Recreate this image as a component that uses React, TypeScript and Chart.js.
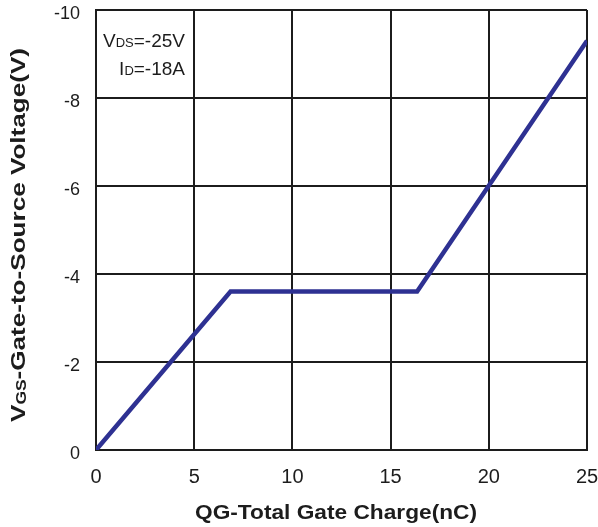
import { useEffect, useRef } from 'react';
import { Chart, registerables } from 'chart.js';

Chart.register(...registerables);

const chargeNC = [0, 6.85, 16.35, 25];
const gateVoltage = [0, -3.6, -3.6, -9.3];
const xTickValues = [0, 5, 10, 15, 20, 25];
const yTickValues = [0, -2, -4, -6, -8, -10];
const xTitle = 'QG-Total Gate Charge(nC)';
const yTitleParts = ['V', 'GS', '-Gate-to-Source Voltage(V)'];
const noteLine1 = ['V', 'DS', '=-25V'];
const noteLine2 = ['I', 'D', '=-18A'];

const FONT = '"Liberation Sans", Arial, Helvetica, sans-serif';
const INK = '#1c1c1c';
const LINE = '#2e3192';

type Seg = { t: string; size: number; dy: number; bold: boolean };

function segWidth(ctx: CanvasRenderingContext2D, segs: Seg[]) {
  let w = 0;
  for (const s of segs) {
    ctx.font = `${s.bold ? 'bold ' : ''}${s.size}px ${FONT}`;
    w += ctx.measureText(s.t).width;
  }
  return w;
}

function drawSegs(ctx: CanvasRenderingContext2D, segs: Seg[], x: number, y: number) {
  let cx = x;
  ctx.textAlign = 'left';
  ctx.textBaseline = 'alphabetic';
  for (const s of segs) {
    ctx.font = `${s.bold ? 'bold ' : ''}${s.size}px ${FONT}`;
    ctx.fillText(s.t, cx, y + s.dy);
    cx += ctx.measureText(s.t).width;
  }
}

const textPlugin = {
  id: 'textPlugin',
  afterDraw(chart: any) {
    const ctx: CanvasRenderingContext2D = chart.ctx;
    ctx.save();
    ctx.fillStyle = INK;

    // Y tick labels (drawn slightly below their gridlines, as in the reference)
    const yScale = chart.scales.y;
    ctx.font = `18px ${FONT}`;
    ctx.textAlign = 'right';
    ctx.textBaseline = 'middle';
    for (const v of yTickValues) {
      ctx.fillText(String(v), yScale.left + yScale.width - 16, yScale.getPixelForValue(v) + 4);
    }

    // X title (stretched horizontally to match reference width)
    ctx.save();
    ctx.font = `bold 21px ${FONT}`;
    const xw = ctx.measureText(xTitle).width;
    const xsx = 282 / xw;
    ctx.translate(336, 519);
    ctx.scale(xsx, 1);
    ctx.textAlign = 'center';
    ctx.textBaseline = 'alphabetic';
    ctx.fillText(xTitle, 0, 0);
    ctx.restore();

    // Y title
    const ySegs: Seg[] = [
      { t: yTitleParts[0], size: 21, dy: 0, bold: true },
      { t: yTitleParts[1], size: 14, dy: 1, bold: true },
      { t: yTitleParts[2], size: 21, dy: 0, bold: true },
    ];
    ctx.save();
    ctx.translate(25, 235);
    ctx.rotate(-Math.PI / 2);
    const yw = segWidth(ctx, ySegs);
    const ysx = 374 / yw;
    ctx.scale(ysx, 1);
    drawSegs(ctx, ySegs, -yw / 2, 0);
    ctx.restore();

    // Note
    const n1: Seg[] = [
      { t: noteLine1[0], size: 19, dy: 0, bold: false },
      { t: noteLine1[1], size: 13, dy: 0, bold: false },
      { t: noteLine1[2], size: 19, dy: 0, bold: false },
    ];
    const n2: Seg[] = [
      { t: noteLine2[0], size: 19, dy: 0, bold: false },
      { t: noteLine2[1], size: 13, dy: 0, bold: false },
      { t: noteLine2[2], size: 19, dy: 0, bold: false },
    ];
    const rightEdge = 185;
    drawSegs(ctx, n1, rightEdge - segWidth(ctx, n1), 47);
    drawSegs(ctx, n2, rightEdge - segWidth(ctx, n2), 75);
    ctx.restore();
  },
};

export default function App() {
  const ref = useRef<HTMLCanvasElement | null>(null);

  useEffect(() => {
    if (!ref.current) return;
    const chart = new Chart(ref.current, {
      type: 'line',
      data: {
        datasets: [
          {
            data: chargeNC.map((x, i) => ({ x, y: gateVoltage[i] })),
            borderColor: LINE,
            borderWidth: 4.5,
            pointRadius: 0,
            tension: 0,
            fill: false,
            borderJoinStyle: 'miter',
          },
        ],
      },
      options: {
        responsive: false,
        animation: false,
        layout: { padding: { top: 10, right: 11, left: 0, bottom: 0 } },
        plugins: {
          legend: { display: false },
          tooltip: { enabled: false },
          title: { display: false },
        },
        scales: {
          x: {
            type: 'linear',
            min: 0,
            max: 25,
            afterFit: (s: any) => {
              s.height = 77;
              s.paddingLeft = 0;
              s.paddingRight = 0;
            },
            afterBuildTicks: (s: any) => {
              s.ticks = xTickValues.map((v) => ({ value: v }));
            },
            grid: { color: INK, lineWidth: 2, drawTicks: false },
            border: { display: true, color: INK, width: 2 },
            ticks: {
              padding: 15,
              color: INK,
              font: { family: FONT, size: 20 },
              maxRotation: 0,
            },
          },
          y: {
            type: 'linear',
            min: -10,
            max: 0,
            reverse: true,
            afterFit: (s: any) => {
              s.width = 96;
              s.paddingTop = 0;
              s.paddingBottom = 0;
            },
            afterBuildTicks: (s: any) => {
              s.ticks = yTickValues.map((v) => ({ value: v }));
            },
            grid: { color: INK, lineWidth: 2, drawTicks: false },
            border: { display: true, color: INK, width: 2 },
            ticks: {
              padding: 16,
              color: 'rgba(0,0,0,0)',
              font: { family: FONT, size: 18 },
            },
          },
        },
      },
      plugins: [textPlugin],
    });
    return () => chart.destroy();
  }, []);

  return (
    <div style={{ position: 'fixed', left: 0, top: 0, width: 598, height: 527, background: '#fff' }}>
      <canvas ref={ref} width={598} height={527} style={{ width: 598, height: 527 }} />
    </div>
  );
}
